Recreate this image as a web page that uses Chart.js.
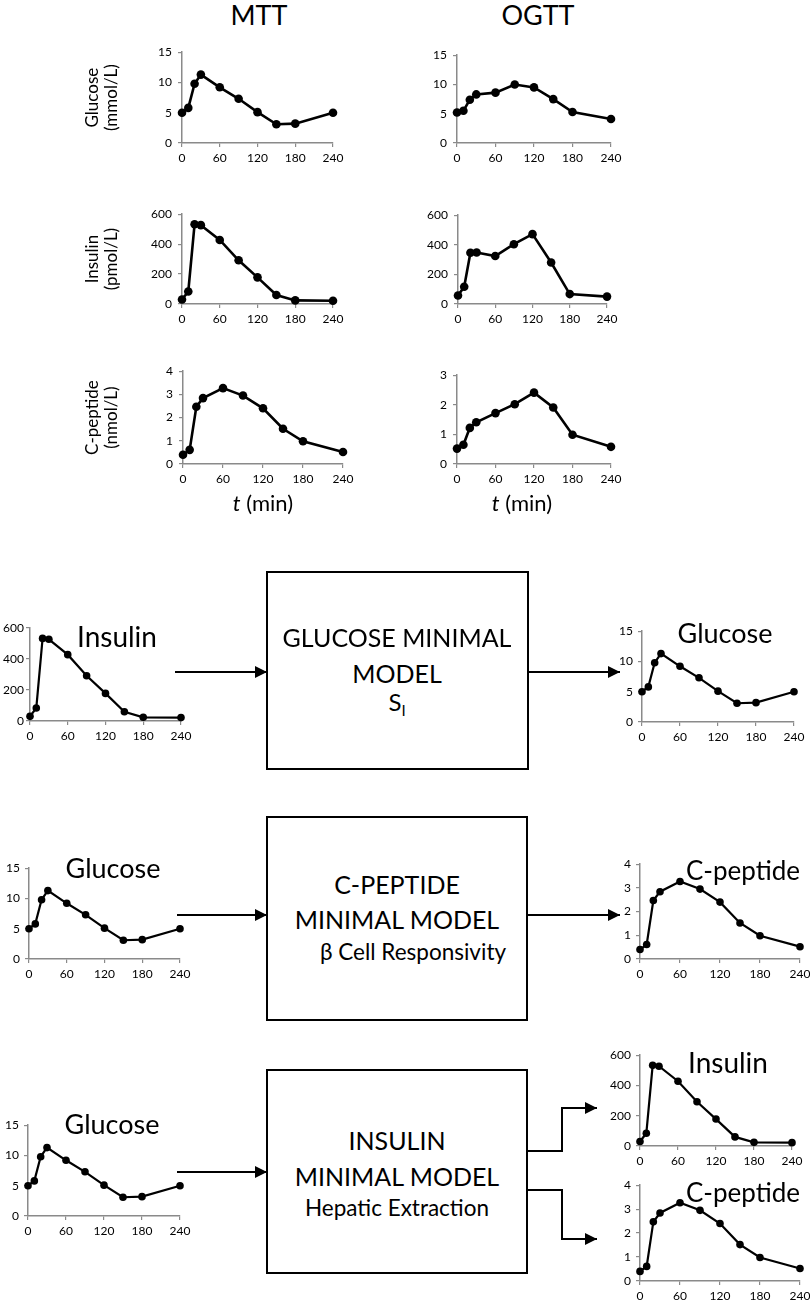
<!DOCTYPE html>
<html><head><meta charset="utf-8">
<script src="https://cdn.jsdelivr.net/npm/chart.js@4.4.1/dist/chart.umd.min.js"></script>
<style>
html,body{margin:0;padding:0;width:810px;height:1301px;overflow:hidden;background:#fff;font-family:Lato,"Open Sans",sans-serif;color:#000;}
.c{position:absolute;}
.t{position:absolute;transform:translate(-50%,-50%);white-space:nowrap;line-height:1;}
svg{position:absolute;left:0;top:0;}
</style></head><body>
<script>
// ---- data ----
const times = [0, 10, 20, 30, 60, 90, 120, 150, 180, 240];
const timeTicks = [0, 60, 120, 180, 240];
const mttGlucose   = [5.0, 5.8, 9.8, 11.3, 9.2, 7.3, 5.1, 3.1, 3.2, 5.0];
const ogttGlucose  = [5.2, 5.5, 7.4, 8.3, 8.6, 10.0, 9.5, 7.5, 5.3, 4.1];
const mttInsulin   = [30, 84, 533, 527, 428, 292, 178, 60, 24, 22];
const ogttInsulin  = [57, 117, 346, 348, 324, 404, 472, 280, 67, 50];
const mttCpeptide  = [0.40, 0.61, 2.47, 2.84, 3.27, 2.95, 2.40, 1.52, 0.98, 0.52];
const ogttCpeptide = [0.52, 0.65, 1.22, 1.41, 1.72, 2.02, 2.41, 1.91, 0.99, 0.58];
const glucoseTicks = [0, 5, 10, 15];
const insulinTicks = [0, 200, 400, 600];
const cpeptideTicks4 = [0, 1, 2, 3, 4];
const cpeptideTicks3 = [0, 1, 2, 3];

// ---- layout ----
const AXIS = '#8a8a8a';
Chart.defaults.font.family = 'Lato';
function panel(p){
  const W = p.yw, T = 10, R = 18, H = 28;
  const w = W + (p.x1 - p.x0) + R;
  const h = T + (p.y0 - p.y1) + H;
  const cv = document.createElement('canvas');
  cv.width = w; cv.height = h;
  cv.className = 'c';
  cv.style.left = (p.x0 - W) + 'px';
  cv.style.top = (p.y1 - T) + 'px';
  cv.style.width = w + 'px'; cv.style.height = h + 'px';
  document.body.appendChild(cv);
  new Chart(cv, {
    type: 'line',
    data: { datasets: [{
      data: times.map((t, i) => ({x: t, y: p.values[i]})),
      borderColor: '#000', backgroundColor: '#000',
      borderWidth: p.lw, pointRadius: p.pr,
      pointBackgroundColor: '#000', pointBorderColor: '#000', pointBorderWidth: 0,
      tension: 0, fill: false, clip: false
    }]},
    options: {
      animation: false, responsive: false, devicePixelRatio: 1,
      layout: { padding: { left: 0, top: T, right: R, bottom: 0 } },
      plugins: { legend: { display: false }, tooltip: { enabled: false } },
      scales: {
        x: {
          type: 'linear', min: 0, max: 240,
          afterBuildTicks: s => { s.ticks = timeTicks.map(v => ({value: v})); },
          grid: { drawOnChartArea: false, drawTicks: true, tickLength: 4, color: AXIS, lineWidth: 1.2 },
          border: { display: true, color: AXIS, width: 1.5 },
          ticks: { font: { size: 12 }, color: '#000', padding: 4, maxRotation: 0, autoSkip: false },
          afterFit: s => { s.height = H; }
        },
        y: {
          min: 0, max: p.ymax,
          afterBuildTicks: s => { s.ticks = p.yticks.map(v => ({value: v})); },
          grid: { drawOnChartArea: false, drawTicks: true, tickLength: 4, color: AXIS, lineWidth: 1.2 },
          border: { display: true, color: AXIS, width: 1.5 },
          ticks: { font: { size: 12 }, color: '#000', padding: p.tp, autoSkip: false },
          title: p.title ? { display: true, text: p.title, color: '#000',
                   font: { size: 17, lineHeight: 1.1 }, padding: { top: 2, bottom: 0 } } : { display: false },
          afterFit: s => { s.width = W; }
        }
      }
    }
  });
}

const big = {lw: 2.6, pr: 4.3, tp: 6};
const small = {lw: 2.2, pr: 3.8, tp: 5};
const panels = [
  Object.assign({x0:182, x1:333, y1:49,  y0:143, values: mttGlucose,  ymax:15, yticks: glucoseTicks, yw:101, title:['Glucose','(mmol/L)']}, big),
  Object.assign({x0:457, x1:611, y1:52,  y0:143, values: ogttGlucose, ymax:15, yticks: glucoseTicks, yw:40}, big),
  Object.assign({x0:182, x1:333, y1:211, y0:304, values: mttInsulin,  ymax:600, yticks: insulinTicks, yw:101, title:['Insulin','(pmol/L)']}, big),
  Object.assign({x0:458, x1:607, y1:212, y0:304, values: ogttInsulin, ymax:600, yticks: insulinTicks, yw:40}, big),
  Object.assign({x0:183, x1:343, y1:368, y0:464, values: mttCpeptide, ymax:4, yticks: cpeptideTicks4, yw:102, title:['C-peptide','(nmol/L)']}, big),
  Object.assign({x0:457, x1:611, y1:372, y0:464, values: ogttCpeptide, ymax:3, yticks: cpeptideTicks3, yw:40}, big),
  Object.assign({x0:30,  x1:181, y1:628, y0:721, values: mttInsulin,  ymax:600, yticks: insulinTicks, yw:40}, small, {tp:2}),
  Object.assign({x0:642, x1:794, y1:629, y0:722, values: mttGlucose,  ymax:15, yticks: glucoseTicks, yw:40}, small),
  Object.assign({x0:29,  x1:180, y1:866, y0:959, values: mttGlucose,  ymax:15, yticks: glucoseTicks, yw:40}, small),
  Object.assign({x0:640, x1:800, y1:862, y0:959, values: mttCpeptide, ymax:4, yticks: cpeptideTicks4, yw:40}, small),
  Object.assign({x0:28,  x1:180, y1:1123, y0:1216, values: mttGlucose, ymax:15, yticks: glucoseTicks, yw:40}, small),
  Object.assign({x0:640, x1:792, y1:1053, y0:1146, values: mttInsulin, ymax:600, yticks: insulinTicks, yw:40}, small),
  Object.assign({x0:640, x1:800, y1:1183, y0:1281, values: mttCpeptide, ymax:4, yticks: cpeptideTicks4, yw:40}, small)
];
panels.forEach(panel);

// ---- text ----
function txt(s, x, y, size){
  const d = document.createElement('div');
  d.className = 't';
  d.style.left = x + 'px'; d.style.top = y + 'px';
  d.style.fontSize = size + 'px';
  d.innerHTML = s;
  document.body.appendChild(d);
}
txt('MTT', 259, 14, 27);
txt('OGTT', 538, 14, 27);
txt('<i>t</i> (min)', 263, 503, 22);
txt('<i>t</i> (min)', 522, 503, 22);
txt('Insulin', 117, 636, 28);
txt('Glucose', 725, 632, 27);
txt('Glucose', 113, 867, 27);
txt('C-peptide', 743, 870, 26);
txt('Glucose', 112, 1123, 27);
txt('Insulin', 728, 1062, 28);
txt('C-peptide', 743, 1192, 26);

txt('GLUCOSE MINIMAL', 397, 637, 25);
txt('MODEL', 397, 673, 25);
txt('S<sub style="font-size:15px;vertical-align:-5px">I</sub>', 397, 704, 24);
txt('C-PEPTIDE', 397, 884, 25);
txt('MINIMAL MODEL', 397, 919, 25);
txt('&beta; Cell Responsivity', 413, 952, 22.5);
txt('INSULIN', 397, 1140, 25);
txt('MINIMAL MODEL', 397, 1176, 25);
txt('Hepatic Extraction', 397, 1208, 22.5);

// ---- diagram boxes and arrows ----
const svgNS = 'http://www.w3.org/2000/svg';
const svg = document.createElementNS(svgNS, 'svg');
svg.setAttribute('width', 810); svg.setAttribute('height', 1301);
svg.innerHTML = `
<defs><marker id="ah" markerWidth="12" markerHeight="12" refX="12" refY="6" orient="auto" markerUnits="userSpaceOnUse">
<path d="M0,0 L12,6 L0,12 Z" fill="#000"/></marker></defs>
<g fill="none" stroke="#000" stroke-width="2">
<rect x="267" y="572" width="261" height="197"/>
<rect x="267" y="817" width="260" height="203"/>
<rect x="267" y="1070" width="260" height="203"/>
<path d="M175,672 L267,672" marker-end="url(#ah)"/>
<path d="M528,672 L620,672" marker-end="url(#ah)"/>
<path d="M177,915 L267,915" marker-end="url(#ah)"/>
<path d="M527,915 L620,915" marker-end="url(#ah)"/>
<path d="M177,1172 L267,1172" marker-end="url(#ah)"/>
<path d="M527,1151 L562,1151 L562,1108 L597,1108" marker-end="url(#ah)"/>
<path d="M527,1190 L562,1190 L562,1239 L597,1239" marker-end="url(#ah)"/>
</g>`;
document.body.appendChild(svg);
</script>
</body></html>
